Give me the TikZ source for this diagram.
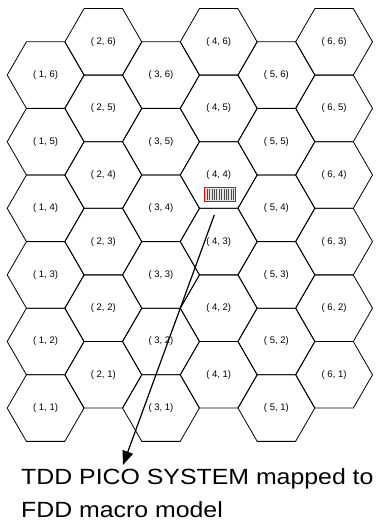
\documentclass[tikz,border=0pt]{standalone}
\usepackage{graphicx}
\usepackage{fontspec}
\setmainfont{Liberation Sans}
\usetikzlibrary{arrows.meta,shapes.geometric}
\tikzset{
  hexcell/.style={regular polygon, regular polygon sides=6, draw=black, line width=0.8pt,
    minimum size=76.8pt, inner sep=0pt, outer sep=0pt,
    font=\fontsize{9.5}{11}\selectfont},
  picobox/.style={rectangle, fill=gray!20,
    minimum width=30.7pt, minimum height=14.4pt, inner sep=0pt, outer sep=0pt},
  hatchline/.style={gray!60!black, line width=0.6pt},
  picoframe/.style={draw=red, line width=1pt},
  arr/.style={line width=1.2pt, -{Triangle[length=14pt,width=11pt]}},
  caption/.style={anchor=north west, align=left, inner sep=0pt,
    font=\fontsize{22}{33}\selectfont}
}
\begin{document}
\begin{tikzpicture}[x=1pt,y=-1pt]
\useasboundingbox (0,0) rectangle (382,524);
\foreach \c in {1,...,6}{
  \foreach \r in {1,...,6}{
    \pgfmathsetmacro\cx{45.6+57.7*(\c-1)}
    \pgfmathsetmacro\cy{41.8+66.6*(6-\r)+33.3*mod(\c,2)}
    \node[hexcell] (h\c\r) at (\cx,\cy) {( \c, \r)};
  }
}
\node[picobox] (pico) at (220.3,194.5) {};
\foreach \k in {0,...,11}{
  \draw[hatchline] ([xshift={2.4pt+\k*2.35pt},yshift=1.3pt]pico.south west) -- ([xshift={2.4pt+\k*2.35pt},yshift=-1.3pt]pico.north west);
}
\draw[picoframe] (pico.south west) rectangle (pico.north east);
\coordinate (astart) at (214.3,215);
\coordinate (atip) at (123,465);
\draw[arr] (astart) -- (atip);
\node[caption] (cap) at (21,468) {\scalebox{1.13}[1]{TDD PICO SYSTEM mapped to}\\\scalebox{1.13}[1]{FDD macro model}};
\end{tikzpicture}
\end{document}
